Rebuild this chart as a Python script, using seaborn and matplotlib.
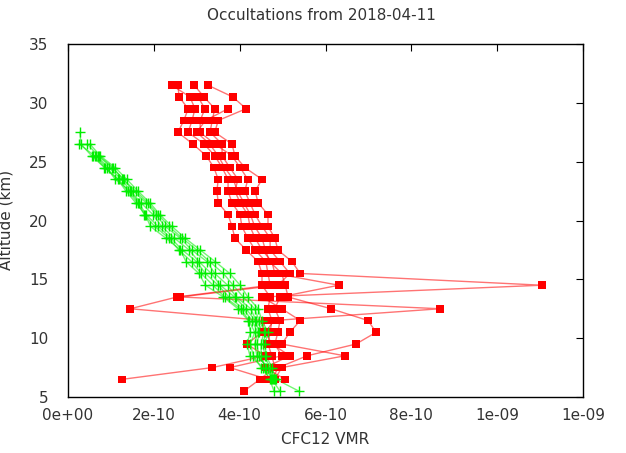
import numpy as np
import pandas as pd
import matplotlib
matplotlib.use("Agg")
import matplotlib.pyplot as plt
import seaborn as sns

nan = np.nan

# Altitude grids (km)
red_alt = [31.5, 30.5, 29.5, 28.5, 27.5, 26.5, 25.5, 24.5, 23.5, 22.5, 21.5,
           20.5, 19.5, 18.5, 17.5, 16.5, 15.5, 14.5, 13.5, 12.5, 11.5, 10.5,
           9.5, 8.5, 7.5, 6.5, 5.5]
green_alt = [27.5, 26.5, 25.5, 24.5, 23.5, 22.5, 21.5, 20.5, 19.5, 18.5, 17.5,
             16.5, 15.5, 14.5, 13.5, 12.5, 11.5, 10.5, 9.5, 8.5, 7.5, 6.5, 5.5]

# CFC12 VMR profiles, in units of 1e-10
red_p1 = [2.42, 2.84, 2.96, 2.89, 2.80, 3.17, 3.42, 3.59, 3.73, 3.73, 3.82, 4.01, 4.05, 4.19,
          4.36, 4.61, 4.66, 4.71, 2.54, 1.45, 4.59, 4.52, 4.17, 4.59, 3.36, 1.26, nan]
red_p2 = [2.56, 2.59, 2.80, 2.70, 2.56, 2.91, 3.22, 3.40, 3.50, 3.47, 3.50, 3.73, 3.82, 3.89,
          4.15, 4.43, 4.52, 4.52, 4.71, 4.66, 4.75, 4.71, 4.66, 4.75, 4.82, 4.47, 4.10]
red_p3 = [2.94, 3.17, 3.42, 3.36, 3.31, 3.59, 3.59, 3.77, 3.96, 3.89, 4.01, 4.19, 4.24, 4.36,
          4.52, 4.75, 4.82, 6.31, 4.94, 4.82, 4.94, 4.89, 4.82, 4.98, 3.77, 4.66, nan]
red_p4 = [3.26, 3.84, 4.15, 3.50, 3.42, 3.82, 3.89, 4.12, 4.52, 4.36, 4.43, 4.66, 4.66, 4.82,
          4.89, 5.22, 5.41, 11.04, 4.52, 4.98, 5.41, 5.17, 4.98, 6.45, 4.98, 4.82, nan]
red_p5 = [nan, 3.03, 3.19, 3.08, 3.08, 3.42, 3.82, 4.01, 4.19, 4.12, 4.24, 4.36, 4.52, 4.71,
          4.71, 4.94, 5.17, 4.89, 2.61, 8.67, 4.80, 4.60, 4.75, 5.17, 4.59, 5.06, nan]
red_p6 = [nan, nan, 3.73, 3.20, 3.00, 3.30, 3.50, 3.65, 3.85, 3.95, 4.10, 4.25, 4.35, 4.52,
          4.60, 4.70, 4.98, 5.06, 5.13, 6.13, 6.99, 7.18, 6.71, 5.57, 4.90, 4.75, nan]

green_p1 = [0.28, 0.30, 0.55, 0.85, 1.16, 1.35, 1.58, 1.80, 1.92, 2.28, 2.62, 2.75,
            3.05, 3.20, 3.62, 3.96, 4.20, 4.25, 4.17, 4.24, 4.55, 4.70, 4.80]
green_p2 = [nan, 0.26, 0.62, 0.90, 1.10, 1.45, 1.65, 1.82, 2.10, 2.40, 2.66, 3.00,
            3.20, 3.50, 3.75, 4.08, 4.29, 4.42, 4.35, 4.40, 4.66, 4.80, nan]
green_p3 = [nan, 0.45, 0.70, 1.02, 1.30, 1.52, 1.82, 2.05, 2.26, 2.62, 2.88, 3.24,
            3.42, 3.72, 3.92, 4.26, 4.38, 4.56, 4.50, 4.50, 4.60, 4.75, 4.94]
green_p4 = [nan, 0.51, 0.75, 1.10, 1.37, 1.63, 1.91, 2.14, 2.42, 2.73, 3.08, 3.43,
            3.77, 4.01, 4.19, 4.43, 4.52, 4.66, 4.59, 4.62, 4.75, 4.85, 5.38]
green_p5 = [nan, nan, 0.65, 0.95, 1.25, 1.46, 1.70, 1.98, 2.18, 2.48, 2.82, 3.05,
            3.34, 3.55, 3.88, 4.15, 4.36, 4.46, 4.40, 4.45, 4.62, 4.78, nan]
green_p6 = [nan, nan, 0.58, 0.86, 1.18, 1.40, 1.62, 1.78, 2.02, 2.35, 2.58, 2.88,
            3.10, 3.38, 3.65, 4.02, 4.22, 4.35, 4.25, 4.32, 4.50, 4.72, nan]
green_p7 = [nan, nan, 0.72, 1.05, 1.28, 1.58, 1.86, 2.10, 2.35, 2.66, 3.00, 3.30,
            3.62, 3.85, 4.08, 4.35, 4.45, 4.60, 4.55, 4.58, 4.70, 4.82, nan]

x_ticks = [0, 2e-10, 4e-10, 6e-10, 8e-10, 1e-09, 1.2e-09]
x_tick_labels = ["0e+00", "2e-10", "4e-10", "6e-10", "8e-10", "1e-09", "1e-09"]
y_ticks = [5, 10, 15, 20, 25, 30, 35]


def to_long(alt, profiles):
    rows = []
    for k, prof in enumerate(profiles):
        for a, v in zip(alt, prof):
            if not np.isnan(v):
                rows.append({"profile": k, "alt": a, "vmr": v * 1e-10})
    return pd.DataFrame(rows)


red_df = to_long(red_alt, [red_p1, red_p2, red_p3, red_p4, red_p5, red_p6])
green_df = to_long(green_alt, [green_p1, green_p2, green_p3, green_p4,
                               green_p5, green_p6, green_p7])

sns.set_style("white")
plt.rcParams["font.family"] = ["DejaVu Sans"]

fig = plt.figure(figsize=(6.26, 4.53), dpi=100)
ax = fig.add_axes([68 / 626, 1 - 397 / 453, (583 - 68) / 626, (397 - 44) / 453])

txt = "#333333"

# profile lines (lighter), then markers on top
sns.lineplot(data=red_df, x="vmr", y="alt", units="profile", estimator=None,
             sort=False, color="#ff0000", alpha=0.55, lw=1.0, ax=ax, legend=False)
sns.lineplot(data=green_df, x="vmr", y="alt", units="profile", estimator=None,
             sort=False, color="#00ee00", alpha=0.55, lw=1.0, ax=ax, legend=False)
sns.scatterplot(data=red_df, x="vmr", y="alt", marker="s", s=30, color="#ff0000",
                edgecolor="none", ax=ax, legend=False, zorder=3)
sns.scatterplot(data=green_df, x="vmr", y="alt", marker="+", s=50, color="#00ee00",
                linewidth=1.0, ax=ax, legend=False, zorder=3)

ax.set_xlim(0, 1.2e-09)
ax.set_ylim(5, 35)
ax.set_xticks(x_ticks)
ax.set_xticklabels(x_tick_labels)
ax.set_yticks(y_ticks)
ax.set_yticklabels([str(t) for t in y_ticks])
ax.tick_params(axis="both", direction="in", length=5, width=0.8, colors="black",
               labelcolor=txt, labelsize=11, top=True, right=True)
ax.tick_params(axis="x", pad=8)
ax.tick_params(axis="y", pad=14)
for sp in ax.spines.values():
    sp.set_color("black")
    sp.set_linewidth(1.0)
ax.set_xlabel("")
ax.set_ylabel("")

fig.text(0.5 * (68 + 583) / 626 - 0.006, 1 - 15 / 453, "Occultations from 2018-04-11",
         ha="center", va="center", fontsize=11, color=txt)
fig.text(0.5 * (68 + 583) / 626, 1 - 440 / 453, "CFC12 VMR",
         ha="center", va="center", fontsize=11, color=txt)
fig.text(6 / 626, 1 - 220 / 453, "Altitude (km)", rotation=90,
         ha="center", va="center", fontsize=11, color=txt)

fig.savefig("out.png", dpi=100)
